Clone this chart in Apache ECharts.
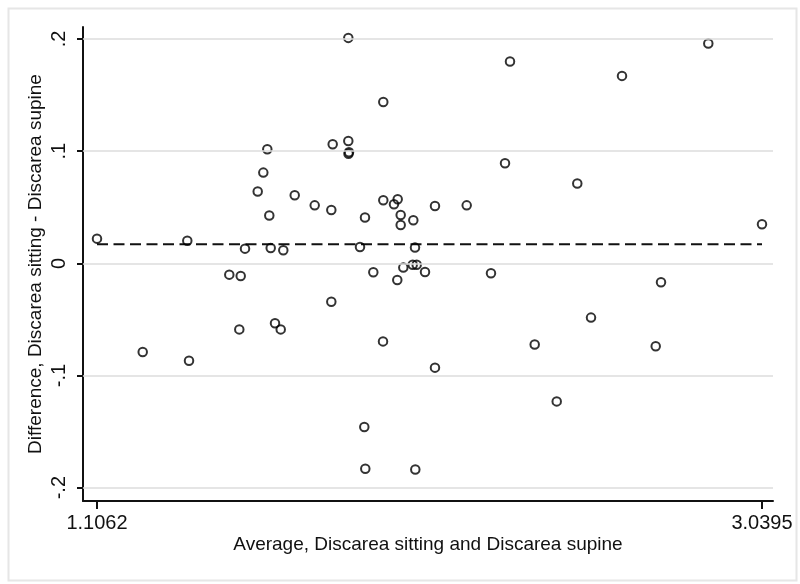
<!DOCTYPE html>
<html>
<head>
<meta charset="utf-8">
<script src="https://cdn.jsdelivr.net/npm/echarts@6/dist/echarts.min.js"></script>
<style>
html,body{margin:0;padding:0;background:#fff;}
#chart{width:800px;height:584px;}
</style>
</head>
<body>
<div id="chart"></div>
<script>
// Average of the two measurements (x) and their difference (y)
const avg = [1.1062,1.3687,1.2391,1.3737,1.4908,1.5240,1.5365,1.5199,1.5734,1.5897,
             1.6013,1.6071,1.6112,1.6478,1.6810,1.6237,1.6403,1.7391,1.7874,1.7914,
             1.7874,1.8368,1.8368,1.8388,1.8374,1.8708,1.8853,1.9095,1.8833,1.8862,
             1.9385,1.9385,1.9377,1.9804,1.9696,1.9891,1.9891,2.0258,2.0888,2.0307,
             1.9967,2.0240,2.0356,2.0598,1.9792,2.0316,2.0888,2.1810,2.2516,2.2924,
             2.3069,2.3787,2.4427,2.5025,2.5424,2.6325,2.7305,2.7459,2.8834,3.0395];
const diff = [0.0220,0.0202,-0.0791,-0.0868,-0.0101,-0.0113,0.0131,-0.0589,0.0640,0.0809,
              0.1017,0.0426,0.0136,0.0116,0.0607,-0.0535,-0.0589,0.0517,0.0475,0.1062,
              -0.0342,0.2010,0.1091,0.0990,0.0977,0.0145,0.0408,-0.0080,-0.1460,-0.1831,
              0.1439,0.0562,-0.0696,0.0571,0.0526,0.0431,0.0342,0.0384,0.0511,0.0140,
              -0.0038,-0.0013,-0.0013,-0.0078,-0.0149,-0.1838,-0.0930,0.0517,-0.0089,0.0892,
              0.1799,-0.0723,-0.1231,0.0711,-0.0484,0.1671,-0.0740,-0.0168,0.1960,0.0348];
const meanDiff = 0.0170;
const xTicks = [1.1062, 3.0395];
const yTicks = [-0.2, -0.1, 0, 0.1, 0.2];
const xTitle = 'Average, Discarea sitting and Discarea supine';
const yTitle = 'Difference, Discarea sitting - Discarea supine';

const points = avg.map((a, i) => [a, diff[i]]);
const xMin = Math.min(...avg), xMax = Math.max(...avg);
const FONT = "'Liberation Sans', Arial, Helvetica, sans-serif";

function fmtY(v) {
  if (Math.abs(v) < 1e-9) return '0';
  const s = Math.abs(v).toFixed(1).replace(/^0/, '');
  return (v < 0 ? '-' : '') + s;
}

const chart = echarts.init(document.getElementById('chart'), null, {renderer: 'canvas'});
chart.setOption({
  backgroundColor: '#ffffff',
  animation: false,
  graphic: [{
    type: 'rect', left: 6, top: 6, z: -10,
    shape: {width: 788, height: 572},
    style: {fill: 'none', stroke: '#e6e6e6', lineWidth: 2}
  }],
  grid: {left: 83, right: 27, top: 27, bottom: 83, containLabel: false},
  xAxis: {
    type: 'value',
    min: 1.0655, max: 3.0715,
    name: xTitle, nameLocation: 'middle', nameGap: 34, nameMoveOverlap: false,
    nameTextStyle: {fontFamily: FONT, fontSize: 19, color: '#111'},
    axisLine: {show: true, onZero: false, lineStyle: {color: '#111', width: 2}},
    axisTick: {show: true, customValues: xTicks, length: 8, lineStyle: {color: '#111', width: 2}},
    axisLabel: {show: true, customValues: xTicks, margin: 12,
      fontFamily: FONT, fontSize: 20, color: '#111',
      formatter: v => Number(v).toFixed(4)},
    splitLine: {show: false}
  },
  yAxis: {
    type: 'value',
    min: -0.2119, max: 0.2107,
    name: yTitle, nameLocation: 'middle', nameGap: 38, nameRotate: 90, nameMoveOverlap: false,
    nameTextStyle: {fontFamily: FONT, fontSize: 19, color: '#111'},
    axisLine: {show: true, onZero: false, lineStyle: {color: '#111', width: 2}},
    axisTick: {show: true, customValues: yTicks, length: 6, lineStyle: {color: '#111', width: 2}},
    axisLabel: {show: true, customValues: yTicks, rotate: 90, margin: 14,
      fontFamily: FONT, fontSize: 20, color: '#111', formatter: fmtY},
    splitLine: {show: false}
  },
  series: [
    {
      type: 'line',
      data: yTicks.map(v => [xMin, v]),
      symbol: 'none',
      lineStyle: {opacity: 0},
      silent: true,
      markLine: {
        silent: true, symbol: 'none', label: {show: false},
        lineStyle: {color: '#dcdcdc', width: 1.5, type: 'solid'},
        data: yTicks.map(v => ({yAxis: v}))
      },
      z: 1
    },
    {
      type: 'line',
      data: [[xMin, meanDiff], [xMax, meanDiff]],
      symbol: 'none',
      lineStyle: {color: '#111', width: 2, type: [11, 5.5]},
      z: 2
    },
    {
      type: 'scatter',
      data: points,
      symbol: 'circle',
      symbolSize: 8.5,
      itemStyle: {color: 'rgba(0,0,0,0)', borderColor: '#000', borderWidth: 2},
      z: 3
    }
  ]
});
</script>
</body>
</html>
